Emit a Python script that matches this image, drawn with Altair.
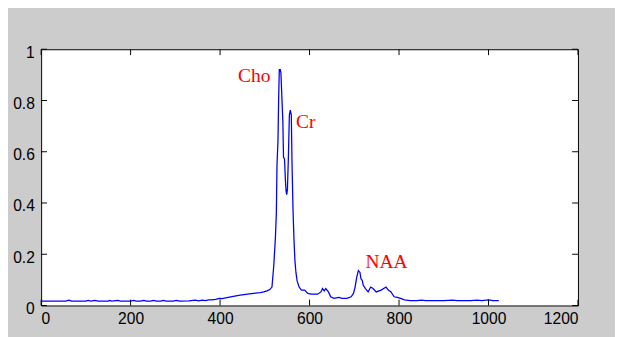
import altair as alt
import pandas as pd

# Spectrum knots (index, amplitude)
pos = [0, 20, 40, 55, 62, 68, 100, 105, 112, 120, 128, 150, 153, 158, 171, 178,
       200, 207, 212, 222, 229, 236, 245, 251, 258, 268, 273, 280, 295, 302, 310,
       330, 345, 352, 360, 367, 374, 381, 390, 398.5, 405, 415, 432.7, 445, 461.7,
       470, 483.6, 490, 498, 505, 511, 516, 520, 523.6, 525.8, 527.2, 529.4, 530.9,
       532.4, 534.6, 536, 538, 540.3, 541.8, 544, 546, 547.5, 549, 550.5, 552.7,
       554.9, 557, 559.2, 560.7, 563, 565.1, 567.3, 569.5, 572.3, 576.7, 581.8, 589,
       596.3, 603.6, 618, 625.4, 629, 632.7, 636.3, 642.2, 647.3, 654.6, 665.5,
       672.7, 683.6, 693, 698.2, 701.8, 705.4, 709.1, 712.7, 714.9, 717.8, 720, 725,
       731, 736.7, 741.9, 749, 760, 771, 776, 782, 789, 796.5, 803.6, 812, 825, 840,
       850, 860, 880, 900, 920, 930, 960, 975, 985, 1000, 1010, 1023]
amp = [0.017, 0.017, 0.017, 0.017, 0.021, 0.017, 0.017, 0.020, 0.017, 0.020, 0.017,
       0.017, 0.020, 0.017, 0.020, 0.017, 0.017, 0.020, 0.017, 0.017, 0.020, 0.017,
       0.017, 0.020, 0.017, 0.017, 0.020, 0.017, 0.017, 0.020, 0.017, 0.018, 0.021,
       0.018, 0.021, 0.019, 0.022, 0.022, 0.024, 0.028, 0.027, 0.031, 0.037, 0.040,
       0.044, 0.046, 0.049, 0.050, 0.053, 0.057, 0.062, 0.072, 0.155, 0.262, 0.363,
       0.547, 0.642, 0.806, 0.92, 0.92, 0.908, 0.819, 0.718, 0.578, 0.572, 0.49,
       0.446, 0.433, 0.452, 0.578, 0.743, 0.762, 0.743, 0.566, 0.376, 0.262, 0.175,
       0.13, 0.095, 0.072, 0.06, 0.06, 0.047, 0.044, 0.044, 0.053, 0.066, 0.057,
       0.066, 0.053, 0.034, 0.028, 0.032, 0.028, 0.028, 0.034, 0.047, 0.072, 0.11,
       0.136, 0.129, 0.104, 0.098, 0.079, 0.066, 0.053, 0.072, 0.066, 0.053, 0.06,
       0.072, 0.06, 0.053, 0.034, 0.032, 0.028, 0.022, 0.019, 0.019, 0.021, 0.019,
       0.019, 0.019, 0.021, 0.019, 0.019, 0.021, 0.019, 0.022, 0.019, 0.019]

x_ticks = [0, 200, 400, 600, 800, 1000, 1200]
y_ticks = [0, 0.2, 0.4, 0.6, 0.8, 1]

peak_names = ["Cho", "Cr", "NAA"]
peak_x = [440, 569.5, 725]
peak_y = [0.873, 0.691, 0.148]

W, H = 551, 263
TL = 6

df = pd.DataFrame({"x": pos, "y": amp})
xt = pd.DataFrame({"x": x_ticks})
yt = pd.DataFrame({"y": y_ticks})
lab = pd.DataFrame({"x": peak_x, "y": peak_y, "t": peak_names})

xs = alt.Scale(domain=[0, 1200], nice=False, zero=False)
ys = alt.Scale(domain=[0, 1], nice=False, zero=False)

xaxis = alt.Axis(values=x_ticks, title=None, grid=False, domain=False,
                 tickSize=0, labelPadding=6, labelFont="Liberation Sans",
                 labelFontSize=16, labelColor="black", format="d")
yaxis = alt.Axis(values=y_ticks, title=None, grid=False, domain=False,
                 tickSize=0, labelPadding=7, labelFont="Liberation Sans",
                 labelFontSize=16, labelColor="black", format="~g",
                 labelOffset=3)

line = alt.Chart(df).mark_line(color="#0000ff", strokeWidth=1.3).encode(
    x=alt.X("x:Q", scale=xs, axis=xaxis),
    y=alt.Y("y:Q", scale=ys, axis=yaxis),
)

bottom_ticks = alt.Chart(xt).mark_rule(color="black", strokeWidth=1).encode(
    x=alt.X("x:Q", scale=xs, axis=xaxis), y=alt.value(H), y2=alt.value(H - TL))
top_ticks = alt.Chart(xt).mark_rule(color="black", strokeWidth=1).encode(
    x=alt.X("x:Q", scale=xs, axis=xaxis), y=alt.value(0), y2=alt.value(TL))
left_ticks = alt.Chart(yt).mark_rule(color="black", strokeWidth=1).encode(
    y=alt.Y("y:Q", scale=ys, axis=yaxis), x=alt.value(0), x2=alt.value(TL))
right_ticks = alt.Chart(yt).mark_rule(color="black", strokeWidth=1).encode(
    y=alt.Y("y:Q", scale=ys, axis=yaxis), x=alt.value(W), x2=alt.value(W - TL))

texts = alt.Chart(lab).mark_text(color="#ff0000", font="Liberation Serif",
                                 fontSize=20, align="left",
                                 baseline="alphabetic").encode(
    x=alt.X("x:Q", scale=xs, axis=xaxis),
    y=alt.Y("y:Q", scale=ys, axis=yaxis),
    text="t:N")

chart = alt.layer(line, bottom_ticks, top_ticks, left_ticks, right_ticks, texts).properties(
    width=W, height=H,
    padding={"left": 34, "top": 38, "right": 38, "bottom": 28},
    autosize=alt.AutoSizeParams(type="none"),
    background="#cccccc",
).configure_view(fill="white", stroke="black", strokeWidth=1)

chart.save("out.html", embed_options={"renderer": "svg", "actions": False})
